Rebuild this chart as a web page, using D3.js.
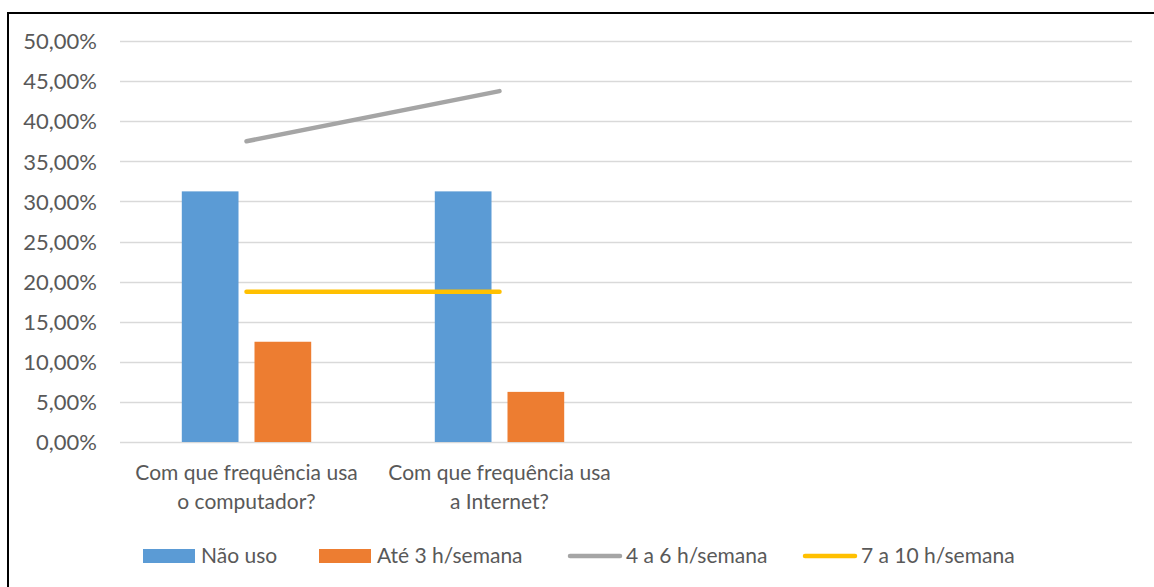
<!DOCTYPE html>
<html><head><meta charset="utf-8">
<script src="https://cdn.jsdelivr.net/npm/d3@7"></script>
<style>body{margin:0;background:#fff}svg text{font-family:Lato,"Open Sans",sans-serif;fill:#595959}</style>
</head><body><svg id="c" width="1154" height="587"></svg>
<script>
const slots = ["Com que frequência usa|o computador?", "Com que frequência usa|a Internet?", "", ""];
const barSeries = ["Não uso", "Até 3 h/semana"];
const naoUso = [0.3125, 0.3125];
const ate3 = [0.125, 0.0625];
const lineSeries = ["4 a 6 h/semana", "7 a 10 h/semana"];
const h4a6 = [0.375, 0.4375];
const h7a10 = [0.1875, 0.1875];
const yTicks = [0, 0.05, 0.10, 0.15, 0.20, 0.25, 0.30, 0.35, 0.40, 0.45, 0.50];
const colors = {"Não uso":"#5B9BD5","Até 3 h/semana":"#ED7D31","4 a 6 h/semana":"#A5A5A5","7 a 10 h/semana":"#FFC000"};

const svg = d3.select("#c");
svg.append("rect").attr("x",8).attr("y",13).attr("width",1160).attr("height",600)
  .attr("fill","none").attr("stroke","#000").attr("stroke-width",2);

const L=120, R=1132, T=41, B=442;
const x = d3.scaleBand().domain(d3.range(slots.length)).range([L,R]);
const y = d3.scaleLinear().domain([0,0.5]).range([B,T]);
const fmt = v => d3.format(".2f")(v*100).replace(".", ",") + "%";

// gridlines
svg.append("g").selectAll("line").data(yTicks).join("line")
  .attr("x1",L).attr("x2",R).attr("y1",d=>Math.round(y(d))+0.5).attr("y2",d=>Math.round(y(d))+0.5)
  .attr("stroke","#D9D9D9").attr("stroke-width",1.3);

// y axis labels
const yAxis = d3.axisLeft(y).tickValues(yTicks).tickFormat(fmt).tickSize(0).tickPadding(0);
const gy = svg.append("g").attr("transform",`translate(97,0)`).call(yAxis);
gy.select(".domain").remove();
gy.selectAll("text").attr("font-size","22px").style("font-family","Lato").attr("fill","#595959").attr("dy","0.35em");

// bars
const inner = d3.scaleBand().domain(barSeries).range([0, x.bandwidth()]).paddingInner(0.22).paddingOuter(0.85);
const barData = [];
[naoUso, ate3].forEach((arr,si)=>arr.forEach((v,i)=>barData.push({s:barSeries[si],i,v})));
svg.append("g").selectAll("rect").data(barData).join("rect")
  .attr("x",d=>x(d.i)+inner(d.s)).attr("width",inner.bandwidth())
  .attr("y",d=>y(d.v)).attr("height",d=>y(0)-y(d.v)).attr("fill",d=>colors[d.s]);

// lines
const line = d3.line().x((d,i)=>x(i)+x.bandwidth()/2).y(d=>y(d));
[[h4a6,lineSeries[0]],[h7a10,lineSeries[1]]].forEach(([arr,name])=>{
  svg.append("path").attr("d",line(arr)).attr("fill","none").attr("stroke",colors[name])
    .attr("stroke-width",4.5).attr("stroke-linecap","round");
});

// category labels
slots.forEach((s,i)=>{
  if(!s) return;
  const parts = s.split("|");
  const t = svg.append("text").attr("text-anchor","middle").attr("font-size","21px");
  parts.forEach((p,j)=>t.append("tspan").attr("x",x(i)+x.bandwidth()/2).attr("y",480+j*29).text(p));
});

// legend
const leg = [
  {name:"Não uso", type:"rect", x:143},
  {name:"Até 3 h/semana", type:"rect", x:319},
  {name:"4 a 6 h/semana", type:"line", x:568},
  {name:"7 a 10 h/semana", type:"line", x:803}
];
const lg = svg.append("g");
leg.forEach(d=>{
  if(d.type==="rect") lg.append("rect").attr("x",d.x).attr("y",549).attr("width",52).attr("height",14).attr("fill",colors[d.name]);
  else lg.append("line").attr("x1",d.x+2).attr("x2",d.x+52).attr("y1",556).attr("y2",556).attr("stroke",colors[d.name]).attr("stroke-width",4.5).attr("stroke-linecap","round");
  lg.append("text").attr("x",d.x+58).attr("y",556).attr("dy","0.35em").attr("font-size","21px").text(d.name);
});
</script></body></html>
